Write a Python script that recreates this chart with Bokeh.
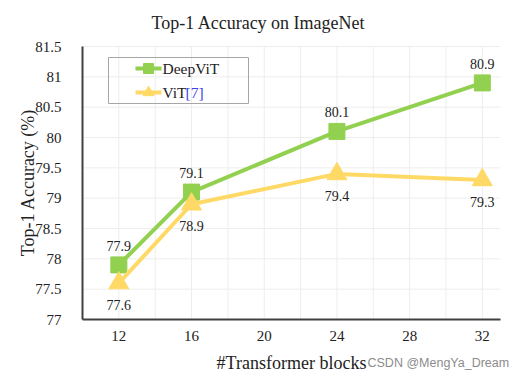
import math
from bokeh.plotting import figure
from bokeh.models import FixedTicker, Label, ColumnDataSource
from bokeh.core.properties import value
from bokeh.embed import file_html
from bokeh.resources import INLINE

blocks = [12, 16, 24, 32]
deepvit = [77.9, 79.1, 80.1, 80.9]
vit = [77.6, 78.9, 79.4, 79.3]
x_ticks = [12, 16, 20, 24, 28, 32]
x_grid = [12, 14, 16, 18, 20, 22, 24, 26, 28, 30, 32]
y_ticks = [77, 77.5, 78, 78.5, 79, 79.5, 80, 80.5, 81, 81.5]
y_tick_labels = ["77", "77.5", "78", "78.5", "79", "79.5", "80", "80.5", "81", "81.5"]

GREEN = "#92D050"
YELLOW = "#FFD966"
SERIF = "Liberation Serif"
W, H = 527, 378

# plot area geometry (pixels) and its data limits
X0, X1, Y0, Y1 = 10, 33, 77, 81.5
FL, FR, FT, FB = 82, 500, 46, 319
sx = (FR - FL) / (X1 - X0)
sy = (FB - FT) / (Y1 - Y0)
def px2x(px): return X0 + (px - FL) / sx
def py2y(py): return Y0 + (FB - py) / sy

# the frame covers the whole canvas so every text can be placed freely
p = figure(width=W, height=H, x_range=(px2x(0), px2x(W)), y_range=(py2y(H), py2y(0)),
           output_backend="svg", toolbar_location=None,
           min_border_left=0, min_border_right=0, min_border_top=0, min_border_bottom=0)
p.outline_line_color = None
p.background_fill_color = "white"
p.grid.visible = False

for ax in (p.xaxis, p.yaxis):
    ax.axis_line_color = "#404040"
    ax.axis_line_width = 2
    ax.major_tick_line_color = None
    ax.minor_tick_line_color = None
    ax.major_label_text_font = SERIF
    ax.major_label_text_font_size = "15px"
    ax.major_label_text_color = "#222222"

p.xaxis.fixed_location = Y0
p.xaxis.bounds = (X0, X1)
p.yaxis.fixed_location = X0
p.yaxis.bounds = (Y0, Y1)
p.xaxis.ticker = FixedTicker(ticks=x_ticks)
p.yaxis.ticker = FixedTicker(ticks=y_ticks)
p.yaxis.major_label_overrides = {t: l for t, l in zip(y_ticks, y_tick_labels)}
p.xaxis.major_label_standoff = 5
p.yaxis.major_label_standoff = 15

# grid lines limited to the plot area
p.segment(x0=x_grid, y0=[Y0] * len(x_grid), x1=x_grid, y1=[Y1] * len(x_grid),
          line_color="#EDEDED", line_width=1)
p.segment(x0=[X0] * len(y_ticks), y0=y_ticks, x1=[X1] * len(y_ticks), y1=y_ticks,
          line_color="#EDEDED", line_width=1)

# legend box (manual)
p.quad(left=[px2x(108)], right=[px2x(248)], bottom=[py2y(103)], top=[py2y(57)],
       fill_alpha=0, line_color="#A6A6A6", line_width=1)

src_d = ColumnDataSource(dict(x=blocks, y=deepvit, t=[f"{v:.1f}" for v in deepvit]))
src_v = ColumnDataSource(dict(x=blocks, y=vit, t=[f"{v:.1f}" for v in vit]))

p.line("x", "y", source=src_d, line_color=GREEN, line_width=4)
p.scatter("x", "y", source=src_d, marker="square", size=16, fill_color=GREEN, line_color=GREEN)
p.line("x", "y", source=src_v, line_color=YELLOW, line_width=4)
p.scatter("x", "y", source=src_v, marker="triangle", size=20, fill_color=YELLOW, line_color=YELLOW)

p.text("x", "y", text="t", source=src_d, text_font=value(SERIF), text_font_size="14px",
       text_align="center", text_baseline="middle", y_offset=-19, text_color="#222222")
p.text("x", "y", text="t", source=src_v, text_font=value(SERIF), text_font_size="14px",
       text_align="center", text_baseline="middle", y_offset=22, text_color="#222222")

# legend samples
ly1, ly2 = py2y(68), py2y(92)
p.line([px2x(135), px2x(161)], [ly1, ly1], line_color=GREEN, line_width=4)
p.scatter([px2x(148)], [ly1], marker="square", size=10, fill_color=GREEN, line_color=GREEN)
p.line([px2x(135), px2x(161)], [ly2, ly2], line_color=YELLOW, line_width=4)
p.scatter([px2x(148)], [ly2], marker="triangle", size=11, fill_color=YELLOW, line_color=YELLOW)
p.add_layout(Label(x=px2x(162), y=ly1, text="DeepViT", text_font=SERIF, text_font_size="15.5px",
                   text_baseline="middle", text_color="#222222"))
p.add_layout(Label(x=px2x(162), y=ly2, text="ViT", text_font=SERIF, text_font_size="15.5px",
                   text_baseline="middle", text_color="#222222"))
p.add_layout(Label(x=px2x(185), y=ly2, text="[7]", text_font=SERIF, text_font_size="15.5px",
                   text_baseline="middle", text_color="#4040F0"))

# titles
p.add_layout(Label(x=px2x(258), y=py2y(22), text="Top-1 Accuracy on ImageNet", text_font=SERIF,
                   text_font_size="18px", text_align="center", text_baseline="middle",
                   text_color="#222222"))
p.add_layout(Label(x=px2x(27), y=py2y(182), text="Top-1 Accuracy (%)", text_font=SERIF,
                   text_font_size="18px", text_align="center", text_baseline="middle",
                   angle=math.pi / 2, text_color="#222222"))
p.add_layout(Label(x=px2x(291), y=py2y(362), text="#Transformer blocks", text_font=SERIF,
                   text_font_size="18px", text_align="center", text_baseline="middle",
                   text_color="#222222"))
p.add_layout(Label(x=px2x(367), y=py2y(362), text="CSDN @MengYa_Dream", text_font="Liberation Sans",
                   text_font_size="12.5px", text_baseline="middle", text_color="#8C8C8C"))

open("out.html", "w").write(file_html(p, INLINE))
